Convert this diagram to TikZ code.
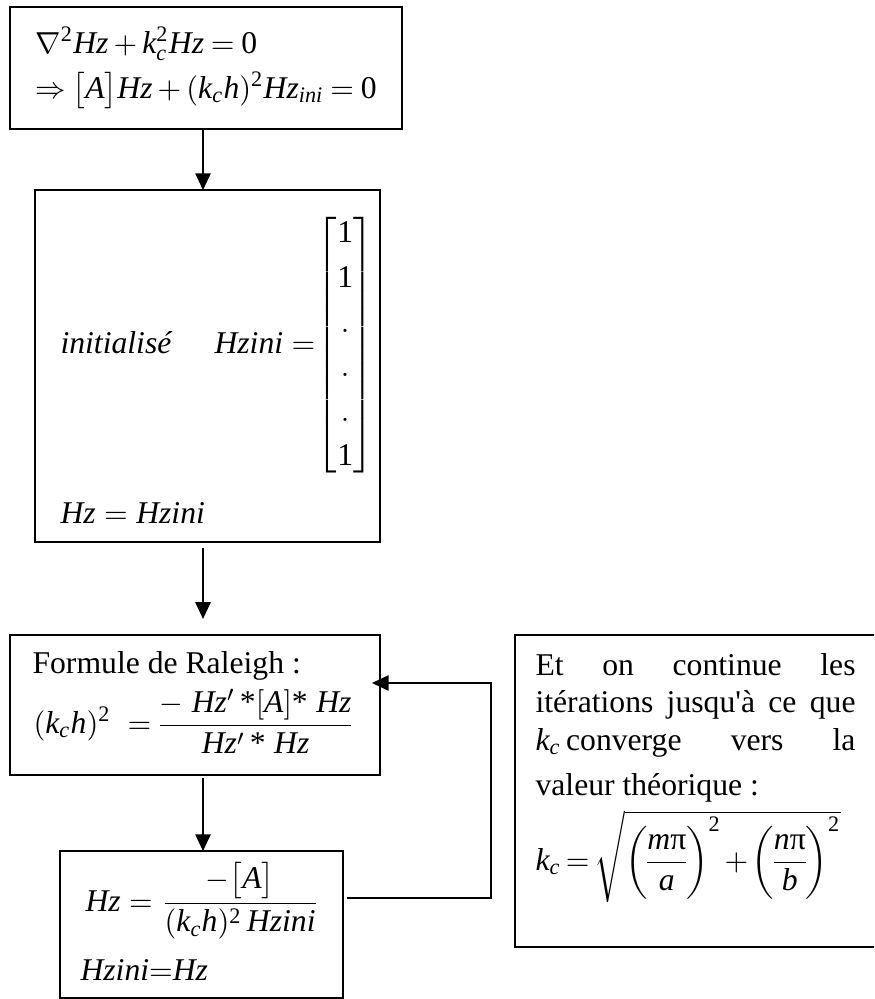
\documentclass[tikz,border=0pt]{standalone}
\usepackage{amsmath}
\usepackage{mathspec}
\setmainfont{Liberation Serif}
\setmathsfont(Digits,Latin){Liberation Serif}
\newfontfamily\noligs[Ligatures=TeXOff]{Liberation Serif}
\usetikzlibrary{arrows.meta}
\tikzset{
  box/.style={draw, line width=0.75pt, inner sep=0pt, outer sep=0pt},
  arr/.style={-{Triangle[length=6pt,width=5.5pt]}, line width=0.6pt},
  txt/.style={anchor=base west, inner sep=0pt, font=\fontsize{11.4}{13.7}\selectfont},
}
\newcommand\st{\text{*}}
\begin{document}
\begin{tikzpicture}[x=0.36pt,y=-0.36pt]
\useasboundingbox (0,0) rectangle (874,999);
\clip (0,0) rectangle (874,999);
% boxes
\node[box, minimum width=141.1pt, minimum height=43.9pt] (b1) at (206,68) {};
\node[box, minimum width=124.2pt, minimum height=126.7pt] (b2) at (207.5,366) {};
\node[box, minimum width=133.2pt, minimum height=50.4pt] (b3) at (195,705) {};
\node[box, minimum width=101.9pt, minimum height=52.9pt] (b4) at (201.5,924.5) {};
\node[box, minimum width=131.4pt, minimum height=112.3pt] (b5) at (697.5,791) {};
% box 1
\node[txt] (t1a) at (35,53) {$\medmuskip=3mu\thickmuskip=4mu\nabla^2 Hz + k_c^2 Hz = 0$};
\node[txt] (t1b) at (35,98) {$\medmuskip=3mu\thickmuskip=4mu\Rightarrow \bigl[A\bigr]Hz + (k_c h)^2 Hz_{ini} = 0$};
% box 2
\node[txt] (t2a) at (60,353) {\textit{initialisé}};
\node[txt] (t2b) at (214,353) {$Hzini \mathrel{=}\mskip-4mu {\arraycolsep=0pt\renewcommand\arraystretch{1.17}\left[\begin{array}{c}1\\1\\.\\.\\.\\1\end{array}\right]}$};
\node[txt] (t2c) at (60,523) {$Hz = Hzini$};
% box 3
\node[txt] (t3a) at (32,673) {Formule de Raleigh :};
\node[txt] (t3b) at (33,733) {$(k_c h)^2\;\;{=}\,\dfrac{-\;Hz'\,\st[A]\st\;Hz}{Hz'\,\st\;Hz}$};
% box 4
\node[txt] (t4a) at (85,911) {$Hz = \dfrac{-\bigl[A\bigr]}{(k_c h)^2\, Hzini}$};
\node[txt] (t4b) at (80,980) {$Hzini{=}Hz$};
% box 5
\node[txt] (t5a) at (535,675) {\hbox to 115.2pt{Et\hfill on\hfill continue\hfill les}};
\node[txt] (t5b) at (535,712) {\hbox to 115.2pt{itérations\hfill jusqu{\noligs\symbol{39}}à\hfill ce\hfill que}};
\node[txt] (t5c) at (535,750) {\hbox to 115.2pt{$k_c$\,converge\hfill vers\hfill la}};
\node[txt] (t5d) at (535,795) {valeur théorique :};
\node[txt] (t5e) at (535,870) {$\nulldelimiterspace=0pt\medmuskip=2mu k_c\,{=}\,\sqrt{\left(\rule[-11pt]{0pt}{28pt}\dfrac{m\text{π}}{a}\right)^{2} + \left(\rule[-11pt]{0pt}{28pt}\dfrac{n\text{π}}{b}\right)^{2}}$};
% connectors
\coordinate (ax) at (203,0);
\draw[arr] (b1.south -| ax) -- (b2.north -| ax);
\draw[arr, shorten <=2.2pt, shorten >=5.8pt] (b2.south -| ax) -- (b3.north -| ax);
\draw[arr, shorten <=1pt] (b3.south -| ax) -- (b4.north -| ax);
\coordinate (r1) at (491,898);
\coordinate (r2) at (491,683);
\draw[arr, shorten <=1.5pt, shorten >=-2.9pt] (b4.east |- r1) -- (r1) -- (r2) -- (b3.east |- r2);
\end{tikzpicture}
\end{document}
